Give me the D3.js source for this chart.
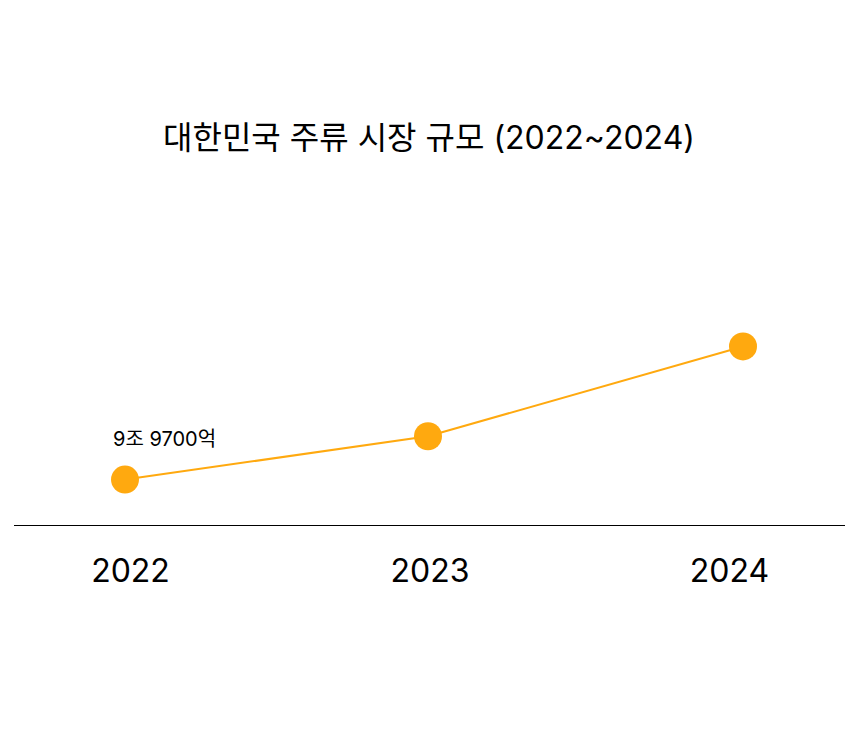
<!DOCTYPE html>
<html><head><meta charset="utf-8">
<script src="https://cdn.jsdelivr.net/npm/d3@7"></script>
<style>
html,body{margin:0;padding:0;background:#fff;}
svg{display:block;font-family:Inter,"Noto Sans CJK KR",sans-serif;}
</style></head>
<body>
<svg id="chart" width="855" height="730"></svg>
<script>
const title = "대한민국 주류 시장 규모 (2022~2024)";
const years = [2022, 2023, 2024];
const values = [99700, 101800, 106150]; // 억원 (estimated for 2023, 2024)
const valueLabels = ["9조 9700억", null, null];
const color = "#FFA90F";

const svg = d3.select("#chart");
const W = 855, H = 730;
const FONT = "Inter, 'Noto Sans CJK KR', sans-serif";

svg.append("text")
  .attr("x", 429).attr("y", 140)
  .attr("text-anchor", "middle").attr("dominant-baseline", "middle")
  .attr("font-size", 32).attr("fill", "#000").attr("font-family", FONT)
  .text(title);

const xPts = d3.scaleLinear().domain(years).range([125, 428, 743]);
const xLab = d3.scalePoint().domain(years.map(String)).range([130, 729]);
const y = d3.scaleLinear().domain([97500, 108400]).range([525, 300]);

const data = years.map((yr, i) => ({year: yr, value: values[i], label: valueLabels[i]}));

// baseline axis
svg.append("line")
  .attr("x1", 14).attr("x2", 845)
  .attr("y1", Math.round(y(97500)) + 0.5).attr("y2", Math.round(y(97500)) + 0.5)
  .attr("stroke", "#000").attr("stroke-width", 1);

// year labels via axis
const axisG = svg.append("g").attr("transform", `translate(0,${y(97500)})`)
  .call(d3.axisBottom(xLab).tickSize(0).tickPadding(34));
axisG.select(".domain").remove();
axisG.selectAll("text")
  .attr("font-size", 32).attr("fill", "#000")
  .attr("font-family", FONT)
  .attr("dy", "0.71em");

const line = d3.line().x(d => xPts(d.year)).y(d => y(d.value));
svg.append("path").datum(data)
  .attr("d", line).attr("fill", "none")
  .attr("stroke", color).attr("stroke-width", 2);

svg.selectAll("circle.pt").data(data).enter().append("circle")
  .attr("class", "pt")
  .attr("cx", d => xPts(d.year)).attr("cy", d => y(d.value))
  .attr("r", 14).attr("fill", color);

svg.selectAll("text.vl").data(data.filter(d => d.label)).enter().append("text")
  .attr("class", "vl")
  .attr("x", d => xPts(d.year) - 12).attr("y", d => y(d.value) - 34)
  .attr("font-size", 20).attr("fill", "#000").attr("font-family", FONT)
  .text(d => d.label);
</script>
</body></html>
